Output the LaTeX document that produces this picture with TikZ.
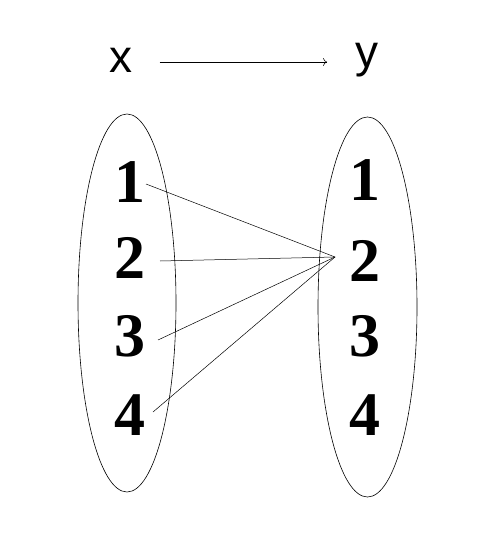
\documentclass[tikz,border=0pt]{standalone}
\usepackage{fontspec}
\newfontfamily\labfont{Liberation Sans}
\newfontfamily\digfont{Liberation Serif}
\usetikzlibrary{arrows.meta}
\begin{document}
\begin{tikzpicture}[x=1pt,y=-1pt,
  setell/.style={draw,line width=0.6pt},
  digit/.style={inner sep=0pt,font=\digfont\bfseries\fontsize{62}{62}\selectfont},
  lab/.style={inner sep=0pt,font=\labfont\fontsize{46}{46}\selectfont},
  link/.style={line width=0.5pt}]
\useasboundingbox (0,0) rectangle (499,553);
\fill[white] (0,0) rectangle (499,553);
\node[lab] (x) at (121,60) {x};
\node[lab] (y) at (367,60) {y};
\draw[link,-{To[length=4pt,width=8pt]}] (x.east) ++(27,2) coordinate (a0) (a0) -- (327,62) coordinate (a1);
\draw[setell] (127,303) ellipse [x radius=49, y radius=189];
\draw[setell] (367.5,307) ellipse [x radius=49.5, y radius=190];
\node[digit] (l1) at (130,182) {1};
\node[digit] (l2) at (130,258) {2};
\node[digit] (l3) at (130,336) {3};
\node[digit] (l4) at (130,415) {4};
\node[digit] (r1) at (365,180) {1};
\node[digit] (r2) at (365,261) {2};
\node[digit] (r3) at (365,336) {3};
\node[digit] (r4) at (365,415) {4};
\coordinate (hub) at (335,257);
\coordinate (s1) at (146,184);
\coordinate (s2) at (160,261);
\coordinate (s3) at (158,340);
\coordinate (s4) at (153,412);
\draw[link] (s1) -- (hub);
\draw[link] (s2) -- (hub);
\draw[link] (s3) -- (hub);
\draw[link] (s4) -- (hub);
\end{tikzpicture}
\end{document}
